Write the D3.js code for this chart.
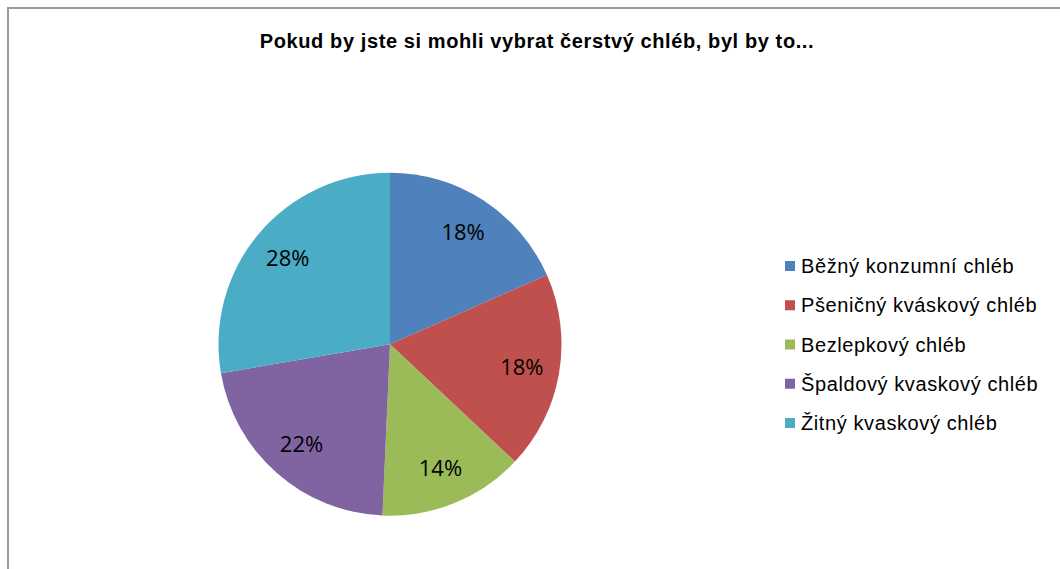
<!DOCTYPE html>
<html>
<head>
<meta charset="utf-8">
<script src="https://cdn.jsdelivr.net/npm/d3@7"></script>
<style>
  html, body { margin: 0; padding: 0; background: #fff; }
  svg { display: block; }
</style>
</head>
<body>
<div id="container"></div>
<script>
var categories = ["Běžný konzumní chléb", "Pšeničný kváskový chléb", "Bezlepkový chléb", "Špaldový kvaskový chléb", "Žitný kvaskový chléb"];
var shares = [18.4, 18.6, 13.7, 21.6, 27.7];
var shareLabels = ["18%", "18%", "14%", "22%", "28%"];
var colors = ["#4F81BD", "#C0504D", "#9BBB59", "#8064A2", "#4BACC6"];
var title = "Pokud by jste si mohli vybrat čerstvý chléb, byl by to...";

var width = 1060, height = 569;
var cx = 390, cy = 344.2, radius = 171.5;

var svg = d3.select("#container")
  .append("svg")
    .attr("width", width)
    .attr("height", height);

svg.append("rect")
  .attr("width", width)
  .attr("height", height)
  .attr("fill", "#fff");

// chart area border (runs off right and bottom edges)
svg.append("rect")
  .attr("x", 8)
  .attr("y", 8)
  .attr("width", width + 20)
  .attr("height", height + 20)
  .attr("fill", "none")
  .attr("stroke", "#9a9a9a")
  .attr("stroke-width", 2);

svg.append("text")
  .attr("x", 537)
  .attr("y", 48)
  .attr("text-anchor", "middle")
  .attr("font-family", "Liberation Sans, Arial, sans-serif")
  .attr("font-weight", "bold")
  .attr("font-size", 20)
  .attr("letter-spacing", 0.6)
  .attr("fill", "#000")
  .text(title);

var data = categories.map(function(c, i){
  return { name: c, value: shares[i], label: shareLabels[i], color: colors[i] };
});

var pie = d3.pie()
  .sort(null)
  .value(function(d){ return d.value; });

var arc = d3.arc()
  .innerRadius(0)
  .outerRadius(radius);

var labelArc = d3.arc()
  .innerRadius(radius * 0.78)
  .outerRadius(radius * 0.78);

var g = svg.append("g")
  .attr("transform", "translate(" + cx + "," + cy + ")");

var arcs = pie(data);

g.selectAll(".slice")
    .data(arcs)
  .enter().append("path")
    .attr("class", "slice")
    .attr("d", arc)
    .attr("fill", function(d){ return d.data.color; });

g.selectAll(".pct")
    .data(arcs)
  .enter().append("text")
    .attr("class", "pct")
    .attr("transform", function(d){ return "translate(" + labelArc.centroid(d) + ")"; })
    .attr("text-anchor", "middle")
    .attr("dy", "0.36em")
    .attr("font-family", "Open Sans, Liberation Sans, sans-serif")
    .attr("font-size", 22)
    .attr("fill", "#000")
    .text(function(d){ return d.data.label; });

// legend
var legendY = d3.scalePoint()
  .domain(categories)
  .range([266, 423]);

var legend = svg.append("g");

var item = legend.selectAll(".item")
    .data(data)
  .enter().append("g")
    .attr("class", "item")
    .attr("transform", function(d){ return "translate(785," + legendY(d.name) + ")"; });

item.append("rect")
  .attr("x", 0)
  .attr("y", -5)
  .attr("width", 10)
  .attr("height", 10)
  .attr("fill", function(d){ return d.color; });

item.append("text")
  .attr("x", 16)
  .attr("dy", "0.36em")
  .attr("font-family", "Liberation Sans, Arial, sans-serif")
  .attr("font-size", 20)
  .attr("letter-spacing", 0.6)
  .attr("fill", "#000")
  .text(function(d){ return d.name; });
</script>
</body>
</html>
